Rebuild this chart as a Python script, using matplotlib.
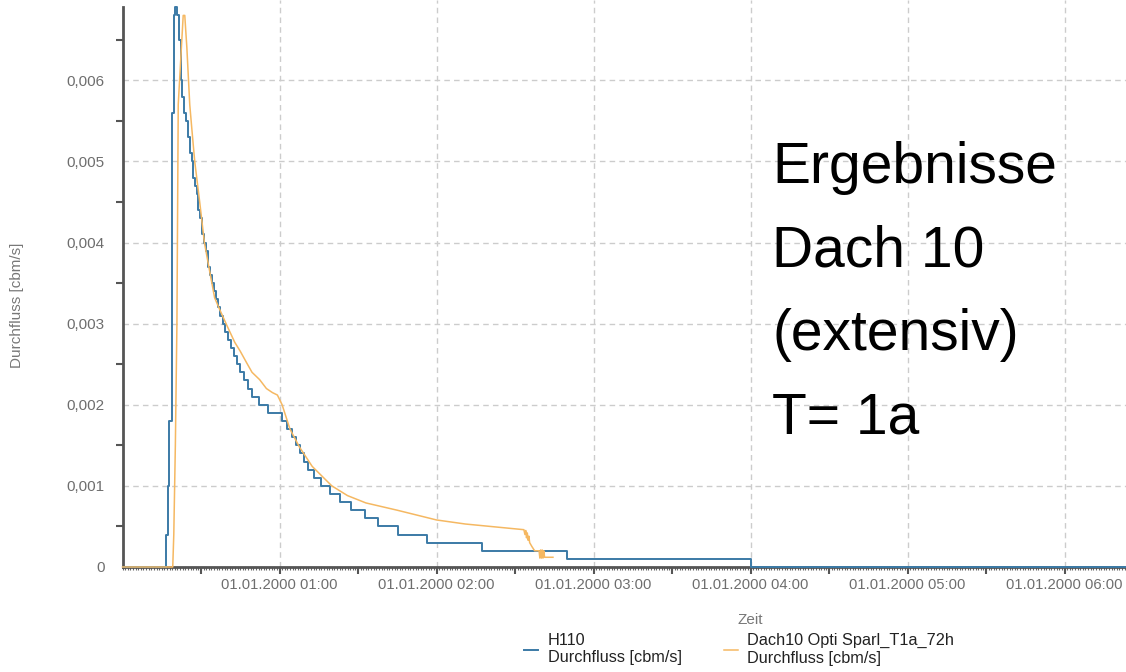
import matplotlib
matplotlib.use("Agg")
import matplotlib.pyplot as plt
import matplotlib.dates as mdates
from matplotlib.ticker import FuncFormatter, MultipleLocator, NullFormatter
import pandas as pd

plt.rcParams['font.family'] = ['Liberation Sans', 'DejaVu Sans']

# H110 Durchfluss (Minuten nach 00:00, Wert in cbm/s) - Treppenkurve
blue_min = [0, 16.8, 17.3, 17.8, 18.8, 19.5, 20.2, 20.8, 21.5, 22.3,
            22.8, 23.5, 24.2, 25.0, 25.7, 26.4, 27.0, 27.7, 28.3, 29.0,
            29.7, 30.4, 31.0, 32.0, 32.7, 33.5, 34.3, 35.0, 35.8, 36.6,
            37.4, 38.3, 39.3, 40.3, 41.5, 42.6, 43.8, 45.0, 46.5, 48.0,
            49.5, 52.0, 55.5, 60.8, 62.7, 64.6, 66.2, 67.8, 69.4, 71.0,
            73.3, 76.0, 79.4, 83.2, 87.4, 92.8, 97.7, 105.3, 116.4, 137.3,
            169.7, 240.0, 480.0]
blue_val = [0, 0.0004, 0.0010, 0.0018, 0.0056, 0.0068, 0.0069, 0.0068, 0.0065, 0.0060,
            0.0058, 0.0056, 0.0055, 0.0053, 0.0051, 0.0050, 0.0048, 0.0047, 0.0046, 0.0044,
            0.0043, 0.0041, 0.0040, 0.0039, 0.0037, 0.0036, 0.0035, 0.0034, 0.0033, 0.0032,
            0.0031, 0.0030, 0.0029, 0.0028, 0.0027, 0.0026, 0.0025, 0.0024, 0.0023, 0.0022,
            0.0021, 0.0020, 0.0019, 0.0018, 0.0017, 0.0016, 0.0015, 0.0014, 0.0013, 0.0012,
            0.0011, 0.0010, 0.0009, 0.0008, 0.0007, 0.0006, 0.0005, 0.0004, 0.0003, 0.0002,
            0.0001, 0.0, 0.0]

# Dach10 Opti Sparl_T1a_72h Durchfluss
orange_min = [0, 19.2, 19.6, 20.2, 20.8, 21.3, 22.5, 23.2, 23.8, 24.6,
              25.7, 26.5, 27.6, 29.5, 31.3, 33.0, 35.2, 37.2, 40.0, 42.9,
              45.0, 47.4, 49.5, 52.4, 55.0, 57.3, 59.2, 61.0, 62.5, 64.0,
              67.6, 72.5, 80.0, 86.0, 93.0, 105.0, 120.0, 131.0, 143.8, 153.4,
              153.8, 154.1, 154.4, 154.7, 155.0, 155.3, 155.6, 156.5, 157.5, 159.2,
              159.5, 159.8, 160.1, 160.4, 160.7, 161.0, 161.3, 162.0, 164.5]
orange_val = [0, 0, 0.0004, 0.0015, 0.0030, 0.0057, 0.0064, 0.0068, 0.0068, 0.0064,
              0.0057, 0.0054, 0.0050, 0.0045, 0.0040, 0.0037, 0.00332, 0.00317, 0.00297, 0.00277,
              0.00266, 0.00252, 0.0024, 0.00231, 0.0022, 0.00215, 0.00212, 0.0020, 0.00185, 0.0017,
              0.00148, 0.00124, 0.0010, 0.00088, 0.00079, 0.0007, 0.00058, 0.00053, 0.00049, 0.00046,
              0.00040, 0.00045, 0.00036, 0.00042, 0.00033, 0.00038, 0.00030, 0.00025, 0.00020, 0.00020,
              0.00011, 0.00021, 0.00011, 0.00021, 0.00011, 0.00020, 0.00012, 0.00012, 0.00012]

labels = ["H110\nDurchfluss [cbm/s]", "Dach10 Opti Sparl_T1a_72h\nDurchfluss [cbm/s]"]
note_lines = ["Ergebnisse", "Dach 10", "(extensiv)", "T= 1a"]

t0 = pd.Timestamp("2000-01-01 00:00")
blue_t = t0 + pd.to_timedelta(blue_min, unit="min")
orange_t = t0 + pd.to_timedelta(orange_min, unit="min")

W, H = 1126, 672
fig = plt.figure(figsize=(W / 100, H / 100), dpi=100)
# Achse reicht rechts ueber das Bild hinaus (Ausschnitt wie im Original)
ax = fig.add_axes([122.5 / W, 1 - 567 / H, 1256 / W, 567 / H])

l1, = ax.plot(blue_t, blue_val, drawstyle="steps-post", color="#3b7aa6", lw=1.4,
              zorder=3, clip_on=False)
l2, = ax.plot(orange_t, orange_val, color="#f5b862", lw=1.1, zorder=4, clip_on=False)

ax.set_xlim(t0, t0 + pd.Timedelta(hours=8))
ax.set_ylim(0, 0.00699)

# nur die im Bild sichtbaren Stunden beschriften
ax.xaxis.set_major_locator(mdates.HourLocator(byhour=range(1, 7)))
ax.xaxis.set_major_formatter(mdates.DateFormatter("%d.%m.%Y %H:%M"))
ax.xaxis.set_minor_locator(mdates.MinuteLocator(byminute=[30]))
ax.yaxis.set_major_locator(MultipleLocator(0.001))
ax.yaxis.set_minor_locator(MultipleLocator(0.0005))
ax.yaxis.set_major_formatter(FuncFormatter(
    lambda v, p: "0" if abs(v) < 1e-9 else f"{v:.3f}".replace(".", ",")))

ax.tick_params(axis="x", which="both", length=5, width=1.5, color="#555555",
               labelsize=10.6, labelcolor="#6e6e6e", pad=3)
ax.tick_params(axis="y", which="major", length=0, labelsize=11, labelcolor="#6e6e6e", pad=13)
ax.tick_params(axis="y", which="minor", length=5, width=1.5, color="#555555")

# kleine Minutenstriche
sec = ax.secondary_xaxis("bottom")
sec.xaxis.set_major_locator(mdates.MinuteLocator(interval=1))
sec.xaxis.set_major_formatter(NullFormatter())
sec.tick_params(length=2, width=0.8, color="#666666")
sec.spines["bottom"].set_visible(False)

ax.grid(True, which="major", color="#cccccc", linestyle=(0, (4, 3)), linewidth=1)
for s in ["top", "right"]:
    ax.spines[s].set_visible(False)
for s in ["left", "bottom"]:
    ax.spines[s].set_color("#555555")
    ax.spines[s].set_linewidth(2)
ax.spines["left"].set_bounds(0, 0.0069)

ax.set_xlabel("Zeit", fontsize=11, color="#777777", labelpad=15)
ax.set_ylabel("Durchfluss [cbm/s]", fontsize=11, color="#777777")
ax.yaxis.set_label_coords((24 - 122.5) / 1256, (567 - 305) / 567)

for i, line in enumerate(note_lines):
    fig.text(772 / W, 1 - (183 + i * 83.5) / H, line, fontsize=41, color="black",
             va="baseline", ha="left")

fig.legend([l1, l2], labels, loc="upper left", bbox_to_anchor=(524 / W, 1 - 633 / H),
           ncol=2, frameon=False, handlelength=0.85, handletextpad=0.6,
           columnspacing=2.6, borderpad=0, borderaxespad=0, fontsize=11.7,
           labelcolor="#222222")

fig.savefig("out.png", dpi=100)
